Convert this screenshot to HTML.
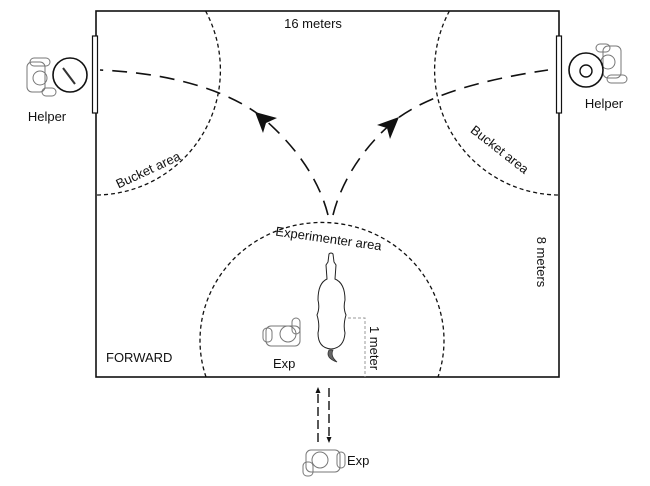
<!DOCTYPE html>
<html><head><style>
html,body{margin:0;padding:0;background:#fff;}
svg{display:block;}
text{font-family:"Liberation Sans",sans-serif;fill:#111;}
</style></head><body>
<svg width="650" height="486" viewBox="0 0 650 486" xmlns="http://www.w3.org/2000/svg">
<rect x="96" y="11" width="463" height="366" fill="none" stroke="#111" stroke-width="1.6"/>
<rect x="92.5" y="36" width="5" height="77" fill="#fff" stroke="#111" stroke-width="1.2"/>
<rect x="556.5" y="36" width="5" height="77" fill="#fff" stroke="#111" stroke-width="1.2"/>
<path d="M205.6 11 A125 125 0 0 1 96 195" fill="none" stroke="#111" stroke-width="1.3" stroke-dasharray="4,3"/>
<path d="M449.4 11 A125 125 0 0 0 559 195" fill="none" stroke="#111" stroke-width="1.3" stroke-dasharray="4,3"/>
<path d="M206 377 A122 118 0 1 1 438 377" fill="none" stroke="#111" stroke-width="1.3" stroke-dasharray="4,3"/>
<path d="M328 215 C318 175 290 140 258 114 C225 90 170 73 100 70" fill="none" stroke="#111" stroke-width="1.6" stroke-dasharray="15,9"/>
<path d="M333 215 C343 175 370 140 398 118 C430 95 480 80 548 70" fill="none" stroke="#111" stroke-width="1.6" stroke-dasharray="15,9"/>
<polygon points="255,112 277,118 266,123 263,133" fill="#111"/>
<polygon points="399,117 390,139 387,128 377,125" fill="#111"/>
<path d="M348 318 H365 V377" fill="none" stroke="#999" stroke-width="1" stroke-dasharray="3,2"/>
<line x1="318" y1="442" x2="318" y2="392" stroke="#111" stroke-width="1.4" stroke-dasharray="9,4"/>
<polygon points="318,387 315.5,393 320.5,393" fill="#111"/>
<line x1="329" y1="388" x2="329" y2="438" stroke="#111" stroke-width="1.4" stroke-dasharray="9,4"/>
<polygon points="329,443 326.5,437 331.5,437" fill="#111"/>
<!-- horse -->
<path d="M329 254 Q331 252 333 254 L334 262 L336 265 L335 279 Q345 283 345 300 Q343 308 346 315 Q343 325 345 333 Q344 348 331 349 Q318 348 318 333 Q320 325 317 315 Q320 308 318 300 Q318 283 327 279 L326 265 L328 262 Z" fill="#fff" stroke="#222" stroke-width="1"/>
<path d="M329 350 Q325 358 337 362 Q330 356 333 350 Z" fill="#666" stroke="#333" stroke-width="0.8"/>
<g fill="none" stroke="#777" stroke-width="1">
<rect x="27" y="62" width="18" height="30" rx="5"/><circle cx="40" cy="78" r="7"/><rect x="30" y="58" width="20" height="8" rx="4"/><rect x="42" y="88" width="14" height="8" rx="4"/>
<rect x="603" y="46" width="18" height="32" rx="5"/><circle cx="608" cy="62" r="7"/><rect x="596" y="44" width="14" height="8" rx="4"/><rect x="607" y="75" width="20" height="8" rx="4"/>
<rect x="266" y="326" width="34" height="20" rx="5"/><circle cx="288" cy="334" r="8"/><rect x="263" y="328" width="9" height="14" rx="4"/><rect x="292" y="318" width="8" height="16" rx="4"/>
<rect x="306" y="450" width="34" height="22" rx="5"/><circle cx="320" cy="460" r="8"/><rect x="303" y="462" width="10" height="14" rx="4"/><rect x="337" y="452" width="8" height="16" rx="4"/>
</g>
<circle cx="70" cy="75" r="17" fill="none" stroke="#111" stroke-width="1.6"/>
<line x1="63" y1="68" x2="75" y2="84" stroke="#333" stroke-width="2"/>
<circle cx="586" cy="70" r="17" fill="none" stroke="#111" stroke-width="1.6"/>
<circle cx="586" cy="71" r="6" fill="none" stroke="#111" stroke-width="1.4"/>
<text x="313" y="28" font-size="13" text-anchor="middle">16 meters</text>
<text x="47" y="121" font-size="13" text-anchor="middle">Helper</text>
<text x="604" y="108" font-size="13" text-anchor="middle">Helper</text>
<text x="150" y="174" font-size="13" text-anchor="middle" transform="rotate(-25 150 174)">Bucket area</text>
<text x="497" y="153" font-size="13" text-anchor="middle" transform="rotate(38 497 153)">Bucket area</text>
<text x="537" y="262" font-size="13" text-anchor="middle" transform="rotate(90 537 262)">8 meters</text>
<text x="328" y="243" font-size="13" text-anchor="middle" transform="rotate(8 328 243)">Experimenter area</text>
<text x="106" y="362" font-size="13">FORWARD</text>
<text x="273" y="368" font-size="13">Exp</text>
<text x="370" y="348" font-size="13" text-anchor="middle" transform="rotate(90 370 348)">1 meter</text>
<text x="347" y="465" font-size="13">Exp</text>
</svg>
</body></html>
